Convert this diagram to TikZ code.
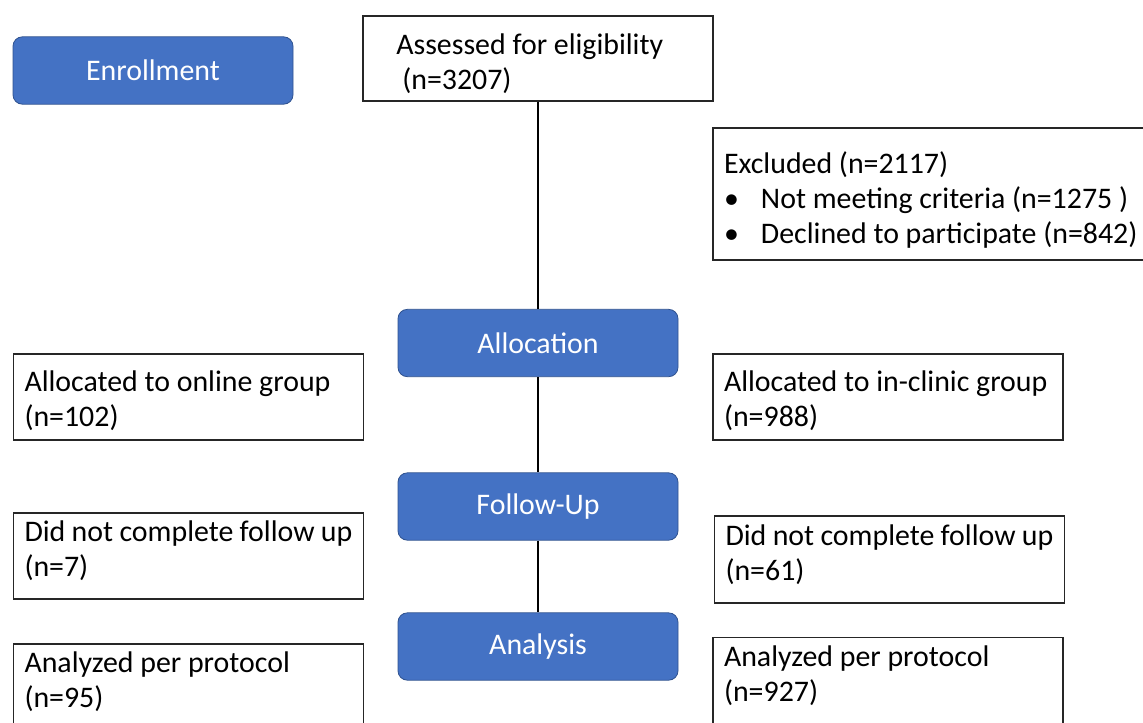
\documentclass[tikz,border=0pt]{standalone}
\usepackage{fontspec}
\setmainfont{Carlito}
\usepackage{tikz}
\definecolor{phaseblue}{HTML}{4472C4}
\definecolor{phaseedge}{HTML}{2F528F}
\newcommand{\flowfont}{\fontsize{22.4}{26.25}\selectfont}

\begin{document}
\begin{tikzpicture}[x=0.75pt, y=-0.75pt,
        phase/.style = {draw=phaseedge, fill=phaseblue, line width=0.6pt, rounded corners=7pt, text=white, minimum width=210pt, minimum height=50.5pt, font=\flowfont},
        info/.style = {draw=black!85, line width=0.8pt, align=flush left, inner xsep=8.25pt, inner ysep=0pt, text width=246pt, font=\flowfont},
        textrows/.style 2 args = {text height=#1, text depth=#2}]
            \useasboundingbox (0,0) rectangle (1143,722);

            \node[phase] (enroll) at (153,70.5) {Enrollment};
            \node[info, inner xsep=25pt, text width=212.5pt, textrows={28.5pt}{35.25pt}] (assess) at (538,58.5) {Assessed for eligibility\\\hspace*{0.2em}(n=3207)};
            \node[info, text width=315pt, textrows={33.75pt}{65.25pt}] (excl) at (934,194) {Excluded (n=2117)\\\makebox[27.75pt][l]{\textbullet}Not meeting criteria (n=1275 )\\\makebox[27.75pt][l]{\textbullet}Declined to participate (n=842)};

            \node[phase] (alloc) at (538,343) {Allocation};
            \node[info, textrows={27.75pt}{36.75pt}] (online) at (188.5,397) {Allocated to online group\\(n=102)};
            \node[info, textrows={27.75pt}{36.75pt}] (clinic) at (888,397) {Allocated to in-clinic group\\(n=988)};

            \node[phase] (follow) at (538,506.5) {Follow-Up};
            \node[info, textrows={21pt}{43.5pt}] (lostonline) at (188.5,556) {Did not complete follow up\\(n=7)};
            \node[info, textrows={21.75pt}{43.5pt}] (lostclinic) at (889.5,559.5) {Did not complete follow up\\(n=61)};

            \node[phase] (analysis) at (538,646.5) {Analysis};
            \node[info, textrows={21pt}{43.5pt}] (doneonline) at (188.5,687) {Analyzed per protocol\\(n=95)};
            \node[info, textrows={21.75pt}{43.5pt}] (doneclinic) at (888,681) {Analyzed per protocol\\(n=927)};

            \path[line width=1pt] (assess) edge (alloc);
            \path[line width=1pt] (alloc) edge (follow);
            \path[line width=1pt] (follow) edge (analysis);
\end{tikzpicture}
\end{document}
